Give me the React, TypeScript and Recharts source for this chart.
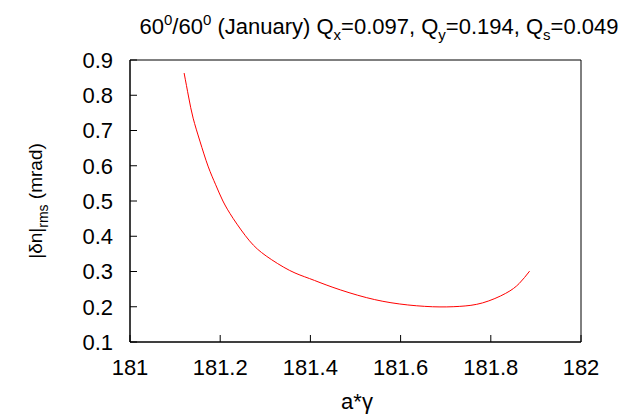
import { LineChart, Line, XAxis, YAxis, Label, ReferenceArea } from "recharts";

// a*gamma values
const aGamma = [
  181.12, 181.13, 181.14, 181.155, 181.173, 181.19, 181.206, 181.229,
  181.265, 181.302, 181.354, 181.398, 181.45, 181.524, 181.597, 181.671,
  181.73, 181.782, 181.833, 181.863, 181.886,
];
// |dn|_rms in mrad
const dnRms = [
  0.863, 0.795, 0.735, 0.67, 0.599, 0.546, 0.5, 0.45,
  0.387, 0.344, 0.303, 0.28, 0.255, 0.226, 0.208, 0.2,
  0.201, 0.211, 0.238, 0.266, 0.301,
];
const xTicks = [181, 181.2, 181.4, 181.6, 181.8, 182];
const yTicks = [0.1, 0.2, 0.3, 0.4, 0.5, 0.6, 0.7, 0.8, 0.9];

const data = aGamma.map((x, i) => ({ x, y: dnRms[i] }));

const font = "'Liberation Sans', Arial, sans-serif";
const GAP = 17; // default tick size (6) + tickMargin (11)
const TICK = 7;

// gnuplot style: ticks point inwards, labels outside
const BottomTick = (p: any) => (
  <g>
    <path d={`M${p.x},${Number(p.y) - GAP}v${-TICK}`} stroke="#000" fill="none" />
    <text x={p.x} y={p.y} dy="0.72em" textAnchor="middle" fontSize={22} fontFamily={font} fill="#000">
      {p.payload.value}
    </text>
  </g>
);
const LeftTick = (p: any) => (
  <g>
    <path d={`M${Number(p.x) + GAP},${p.y}h${TICK}`} stroke="#000" fill="none" />
    <text x={p.x} y={p.y} dy="0.36em" textAnchor="end" fontSize={22} fontFamily={font} fill="#000">
      {Number(p.payload.value).toFixed(1)}
    </text>
  </g>
);

const Title = () => (
  <text x={371} y={26} fontSize={22} textAnchor="middle" fontFamily={font} fill="#000">
    60<tspan dy={-9} fontSize={15}>0</tspan>
    <tspan dy={9}>/60</tspan>
    <tspan dy={-9} fontSize={15}>0</tspan>
    <tspan dy={9}> (January) Q</tspan>
    <tspan dy={6} fontSize={15}>x</tspan>
    <tspan dy={-6}>=0.097, Q</tspan>
    <tspan dy={6} fontSize={15}>y</tspan>
    <tspan dy={-6}>=0.194, Q</tspan>
    <tspan dy={6} fontSize={15}>s</tspan>
    <tspan dy={-6}>=0.049</tspan>
  </text>
);
const XTitle = () => (
  <g>
    <Title />
    <text x={349} y={401} fontSize={22} textAnchor="middle" fontFamily={font} fill="#000">
      a*γ
    </text>
  </g>
);
const YTitle = () => (
  <text transform="translate(34,193) rotate(-90)" fontSize={19} textAnchor="middle" fontFamily={font} fill="#000">
    |δn|<tspan dy={6} fontSize={14}>rms</tspan>
    <tspan dy={-6}> (mrad)</tspan>
  </text>
);

export default function App() {
  return (
    <LineChart
      width={619}
      height={411}
      data={data}
      margin={{ top: 52, right: 46, left: 0, bottom: 0 }}
    >
      <XAxis
        dataKey="x"
        type="number"
        domain={[181, 182]}
        ticks={xTicks}
        height={77}
        stroke="#000"
        tickLine={false}
        tickMargin={11}
        tick={BottomTick}
      >
        <Label content={XTitle} />
      </XAxis>
      <YAxis
        type="number"
        domain={[0.1, 0.9]}
        ticks={yTicks}
        width={122}
        stroke="#000"
        tickLine={false}
        tickMargin={11}
        tick={LeftTick}
      >
        <Label content={YTitle} />
      </YAxis>
      <ReferenceArea x1={181} x2={182} y1={0.1} y2={0.9} fill="none" stroke="#000" />
      <Line
        dataKey="y"
        type="natural"
        stroke="#ff0000"
        strokeWidth={1}
        dot={false}
        isAnimationActive={false}
      />
    </LineChart>
  );
}
